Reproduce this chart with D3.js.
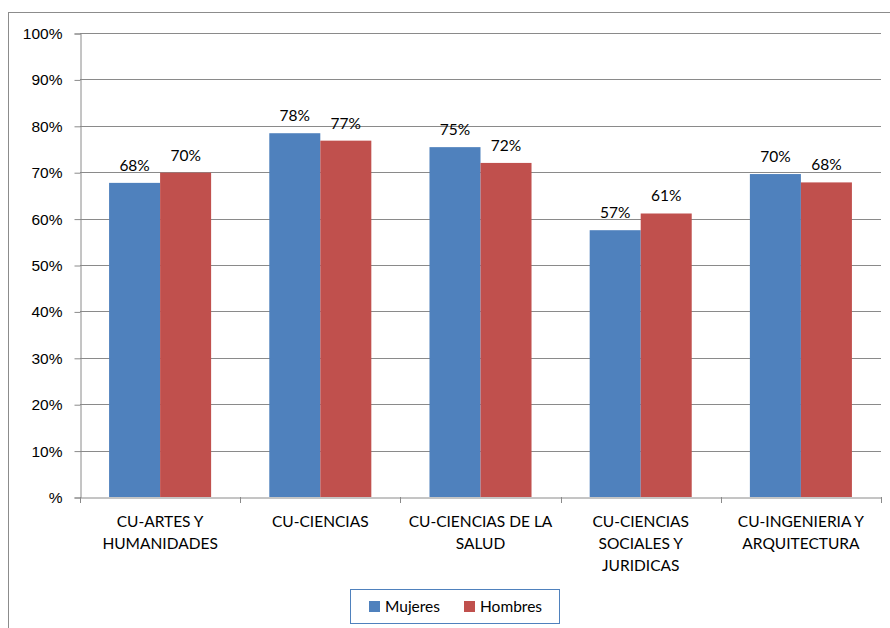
<!DOCTYPE html>
<html>
<head>
<meta charset="utf-8">
<script src="https://cdn.jsdelivr.net/npm/d3@7"></script>
<style>
  body { margin: 0; background: #fff; }
  svg { font-family: Lato, "Open Sans", sans-serif; }
</style>
</head>
<body>
<div id="chart"></div>
<script>
// data
var categories = ["CU-ARTES Y HUMANIDADES", "CU-CIENCIAS", "CU-CIENCIAS DE LA SALUD",
                  "CU-CIENCIAS SOCIALES Y JURIDICAS", "CU-INGENIERIA Y ARQUITECTURA"];
var catLines = [["CU-ARTES Y", "HUMANIDADES"], ["CU-CIENCIAS"], ["CU-CIENCIAS DE LA", "SALUD"],
                ["CU-CIENCIAS", "SOCIALES Y", "JURIDICAS"], ["CU-INGENIERIA Y", "ARQUITECTURA"]];
var seriesNames = ["Mujeres", "Hombres"];
var mujeres = [0.677, 0.784, 0.754, 0.575, 0.696];
var hombres = [0.699, 0.768, 0.720, 0.611, 0.678];
var yTicks = [0, 0.1, 0.2, 0.3, 0.4, 0.5, 0.6, 0.7, 0.8, 0.9, 1];
var colors = ["#4F81BD", "#C0504D"];

var w = 890, h = 628;
var plotL = 80, plotR = 881, plotT = 33, plotB = 497;
var fs = 15.5;

var svg = d3.select("#chart").append("svg")
    .attr("width", w)
    .attr("height", h);

// outer chart frame
svg.append("rect")
   .attr("x", 8.5).attr("y", 12.5)
   .attr("width", 900).attr("height", 700)
   .attr("fill", "none")
   .attr("stroke", "#8c8c8c");

var x = d3.scaleBand().domain(categories).range([plotL, plotR]);
var xs = d3.scaleBand().domain(seriesNames).range([0, x.bandwidth()]).paddingOuter(0.57).paddingInner(0);
var y = d3.scaleLinear().domain([0, 1]).range([plotB, plotT]);

// gridlines
svg.append("g").selectAll("line").data(yTicks.slice(1)).enter().append("line")
   .attr("x1", plotL).attr("x2", plotR)
   .attr("y1", d => Math.round(y(d)) + 0.5).attr("y2", d => Math.round(y(d)) + 0.5)
   .attr("stroke", "#8a8a8a");

// y axis
var yAxis = d3.axisLeft(y).tickValues(yTicks).tickSize(6)
    .tickFormat(d => d === 0 ? "%" : Math.round(d * 100) + "%");
var gy = svg.append("g")
   .attr("transform", "translate(" + (plotL + 0.5) + ",0.5)")
   .call(yAxis);
gy.select(".domain").attr("stroke", "#8a8a8a");
gy.selectAll(".tick line").attr("stroke", "#8a8a8a");
gy.selectAll(".tick text").attr("x", -18).attr("font-size", fs).attr("font-family", null).attr("fill", "#000");

// bars
var data = [mujeres, hombres];
var groups = svg.append("g").selectAll("g").data(categories).enter().append("g")
   .attr("transform", d => "translate(" + x(d) + ",0)");

groups.each(function(cat, ci) {
    var g = d3.select(this);
    seriesNames.forEach(function(s, si) {
        var v = data[si][ci];
        g.append("rect")
         .attr("x", xs(s)).attr("width", xs.bandwidth())
         .attr("y", y(v)).attr("height", y(0) - y(v))
         .attr("fill", colors[si]);
        g.append("text")
         .attr("x", xs(s) + xs.bandwidth() / 2)
         .attr("y", y(v) - 12)
         .attr("text-anchor", "middle")
         .attr("font-size", fs)
         .text(Math.round(v * 100) + "%");
    });
});

// x axis
var xAxis = d3.axisBottom(x).tickSize(0).tickFormat("");
var gx = svg.append("g")
   .attr("transform", "translate(0," + (plotB + 0.5) + ")")
   .call(xAxis);
gx.select(".domain").attr("stroke", "#8a8a8a");
gx.selectAll(".tick").remove();
svg.append("g").selectAll("line")
   .data(categories.concat(["end"])).enter().append("line")
   .attr("x1", (d, i) => i < categories.length ? Math.round(x(d)) + 0.5 : plotR + 0.5)
   .attr("x2", (d, i) => i < categories.length ? Math.round(x(d)) + 0.5 : plotR + 0.5)
   .attr("y1", plotB).attr("y2", plotB + 6)
   .attr("stroke", "#8a8a8a");

// category labels
categories.forEach(function(cat, i) {
    var t = svg.append("text")
       .attr("text-anchor", "middle")
       .attr("font-size", fs)
       .attr("x", x(cat) + x.bandwidth() / 2)
       .attr("y", 527);
    catLines[i].forEach(function(line, li) {
        t.append("tspan")
         .attr("x", x(cat) + x.bandwidth() / 2)
         .attr("dy", li === 0 ? 0 : 22)
         .text(line);
    });
});

// legend
var legend = svg.append("g");
legend.append("rect")
   .attr("x", 350.5).attr("y", 589.5)
   .attr("width", 209).attr("height", 34)
   .attr("fill", "#fff")
   .attr("stroke", "#4F81BD");
var legendX = [369, 464];
seriesNames.forEach(function(s, i) {
    legend.append("rect")
       .attr("x", legendX[i]).attr("y", 601)
       .attr("width", 11).attr("height", 11)
       .attr("fill", colors[i]);
    legend.append("text")
       .attr("x", legendX[i] + 16).attr("y", 612)
       .attr("font-size", fs)
       .text(s);
});
</script>
</body>
</html>
